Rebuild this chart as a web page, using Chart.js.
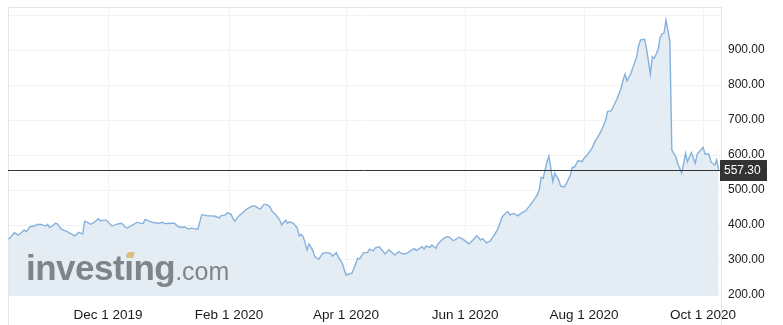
<!DOCTYPE html>
<html>
<head>
<meta charset="utf-8">
<script src="https://cdn.jsdelivr.net/npm/chart.js@4.4.1/dist/chart.umd.min.js"></script>
<style>
  html, body { margin: 0; padding: 0; background: #fff; }
  #wrap { position: relative; width: 783px; height: 325px; }
  #c { position: absolute; left: 0; top: 0; }
  #wm { position: absolute; left: 26px; top: 250px; line-height: 35px; white-space: nowrap;
        font-family: "Liberation Sans", Arial, sans-serif; color: rgba(120,123,128,0.92); pointer-events: none; }
  #wm .b { font-size: 35px; font-weight: bold; letter-spacing: -0.5px; }
  #wm .c { font-size: 25px; font-weight: normal; }
  #dot { position: absolute; left: 127px; top: 252px; width: 7px; height: 6px; background: #dcc07c;
         transform: skewX(-15deg); pointer-events: none; }
</style>
</head>
<body>
<div id="wrap">
  <canvas id="c" width="783" height="325"></canvas>
  <div id="wm"><span class="b">investing</span><span class="c">.com</span></div>
  <div id="dot"></div>
</div>
<script>
// Days since Dec 1 2019
const dayIndex = [
  -51,-48,-46,-43,-42,-40,-38,-36,-34,-32,
  -31,-30,-29,-27,-26,-24,-21,-17,-15,-13,
  -12,-11,-9,-7,-5,-4,-2,-1,2,5,
  7,9,10,12,15,17,18,19,21,23,
  26,28,29,32,34,36,38,39,41,43,
  45,46,48,49,51,53,55,57,58,60,
  61,63,64,65,67,69,71,73,75,77,
  78,80,81,83,84,86,88,89,91,92,
  93,95,97,98,99,100,101,102,103,105,
  106,108,110,112,114,115,117,118,120,122,
  125,126,128,129,131,133,134,136,137,139,
  142,144,147,149,151,153,157,158,161,162,
  163,165,166,168,169,172,174,175,177,180,
  182,185,187,189,191,192,194,196,198,
  200,202,204,205,
  206,208,210,212,214,216,218,220,221,222,
  223,225,226,228,229,231,232,234,235,237,
  238,239,241,243,244,246,248,250,251,253,
  255,256,258,259,261,263,264,265,266,268,
  271,272,273,275,276,278,279,280,282,283,
  284,285,286,288,289,291,292,294,295,296,
  297,299,301,302,305,306,308,309,311,312,313
];
const closes = [
  359,378,371,386,381,395,397,402,401,397,
  402,393,395,405,403,388,381,369,379,374,
  411,409,402,408,418,412,414,414,397,403,
  405,393,392,398,408,404,405,416,411,407,
  405,408,404,405,405,395,393,395,389,391,
  389,388,429,429,426,426,425,420,427,428,
  435,431,419,411,426,435,445,452,455,448,
  446,459,459,452,440,429,414,400,414,405,
  409,405,391,369,373,367,349,329,346,327,
  309,302,319,321,319,311,321,309,291,257,
  262,276,305,303,321,321,331,326,335,338,
  317,329,314,324,317,319,333,327,338,331,
  340,336,343,333,345,362,367,365,355,365,
  359,346,357,369,357,361,349,355,371,
  391,423,435,438,
  429,433,426,435,440,454,469,486,500,536,
  533,581,597,524,548,529,511,509,519,543,
  565,565,584,581,591,603,619,643,651,671,
  698,724,727,738,762,791,814,831,812,833,
  881,914,929,931,905,831,881,876,902,936,
  946,949,986,924,614,595,576,549,574,605,
  581,607,576,603,622,603,603,581,571,586,557.3
];
const lastPrice = 557.30;
const tickDays = [0, 62, 122, 183, 244, 305];
const tickLabels = ['Dec 1 2019', 'Feb 1 2020', 'Apr 1 2020', 'Jun 1 2020', 'Aug 1 2020', 'Oct 1 2020'];
const yTicks = [200, 300, 400, 500, 600, 700, 800, 900, 1000];
const yLabeled = [200, 300, 400, 500, 600, 700, 800, 900];

const n = Math.min(dayIndex.length, closes.length);
const points = [];
for (let i = 0; i < n; i++) points.push({ x: dayIndex[i], y: closes[i] });

const FONT = '"Liberation Sans", Arial, sans-serif';
const frameColor = '#e3e5ee';
const gridColor = '#f1f2f4';

const overlay = {
  id: 'overlay',
  beforeDatasetsDraw(chart) {
    const ctx = chart.ctx, a = chart.chartArea;
    ctx.save();
    ctx.strokeStyle = frameColor;
    ctx.lineWidth = 1;
    ctx.beginPath();
    ctx.moveTo(a.left + 0.5, 325);
    ctx.lineTo(a.left + 0.5, a.top + 0.5);
    ctx.lineTo(a.right + 0.5, a.top + 0.5);
    ctx.lineTo(a.right + 0.5, 325);
    ctx.stroke();
    ctx.restore();
  },
  afterDatasetsDraw(chart) {
    const ctx = chart.ctx, a = chart.chartArea;
    const y = Math.round(chart.scales.y.getPixelForValue(lastPrice)) + 0.5;
    ctx.save();
    ctx.strokeStyle = '#333333';
    ctx.lineWidth = 1;
    ctx.beginPath();
    ctx.moveTo(a.left, y);
    ctx.lineTo(a.right, y);
    ctx.stroke();
    ctx.fillStyle = '#333333';
    ctx.fillRect(a.right - 1, y - 10.5, 47, 21);
    ctx.fillStyle = '#ffffff';
    ctx.font = '12px ' + FONT;
    ctx.textAlign = 'left';
    ctx.textBaseline = 'middle';
    ctx.fillText(lastPrice.toFixed(2), a.right + 3, y + 0.5);
    ctx.restore();
  }
};

new Chart(document.getElementById('c'), {
  type: 'line',
  data: {
    datasets: [{
      data: points,
      borderColor: '#86b1dc',
      borderWidth: 1.4,
      backgroundColor: '#e4edf4',
      fill: 'start',
      pointRadius: 0,
      tension: 0
    }]
  },
  options: {
    responsive: false,
    animation: false,
    events: [],
    layout: { padding: { left: 8, top: 7, right: 0, bottom: 0 } },
    plugins: { legend: { display: false }, tooltip: { enabled: false } },
    scales: {
      x: {
        type: 'linear',
        min: -51.3,
        max: 314.2,
        afterBuildTicks(scale) { scale.ticks = tickDays.map(v => ({ value: v })); },
        afterFit(scale) { scale.height = 29; scale.paddingLeft = 0; scale.paddingRight = 0; },
        grid: { color: gridColor, drawTicks: false },
        border: { display: false },
        ticks: {
          padding: 11,
          maxRotation: 0,
          autoSkip: false,
          color: '#1a1a1a',
          font: { family: FONT, size: 13.5 },
          callback(v) { const i = tickDays.indexOf(v); return i >= 0 ? tickLabels[i] : ''; }
        }
      },
      y: {
        position: 'right',
        min: 197.1,
        max: 1023,
        afterBuildTicks(scale) { scale.ticks = yTicks.map(v => ({ value: v })); },
        afterFit(scale) { scale.width = 62; scale.paddingTop = 0; scale.paddingBottom = 0; },
        grid: { color: gridColor, drawTicks: false },
        border: { display: false },
        ticks: {
          padding: 7,
          color: '#1a1a1a',
          font: { family: FONT, size: 12 },
          callback(v) { return yLabeled.includes(v) ? v.toFixed(2) : ''; }
        }
      }
    }
  },
  plugins: [overlay]
});
</script>
</body>
</html>
